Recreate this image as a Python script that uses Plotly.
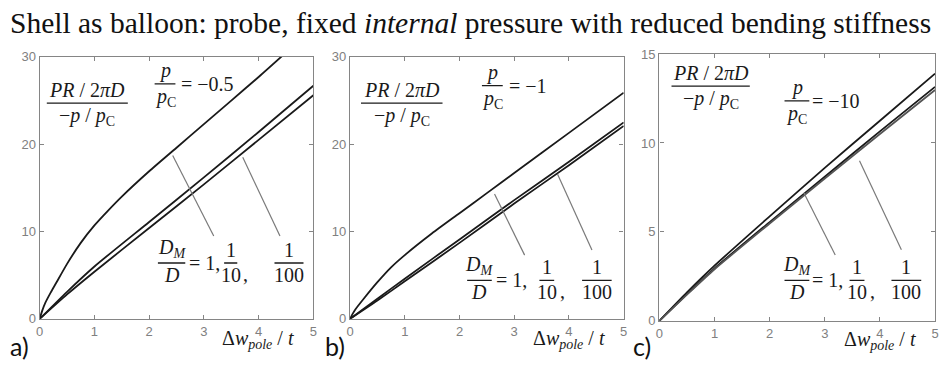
import plotly.graph_objects as go

# ---- curve data: P R/(2 pi D)/(-p/pc) versus pole deflection, for D_M/D = 1, 1/10, 1/100
# panel a) p/pc = -0.5
a_x_stiff = [0, 0.05, 0.1, 0.2, 0.3, 0.5, 0.75, 1, 1.25, 1.5, 2, 2.5, 3, 3.5, 4, 4.5]
a_y_stiff = [0, 1.0, 1.8, 3.0, 4.1, 6.3, 8.7, 10.7, 12.4, 14.0, 16.9, 19.6, 22.3, 25.0, 27.7, 30.5]
a_x = [0, 0.5, 1, 2, 3, 4, 5]
a_y_tenth = [0, 3.1, 6.0, 11.1, 16.2, 21.4, 26.7]
a_y_hundredth = [0, 2.8, 5.4, 10.4, 15.4, 20.5, 25.6]

# panel b) p/pc = -1
b_x_stiff = [0, 0.05, 0.1, 0.25, 0.5, 0.75, 1, 1.5, 2, 2.5, 3, 4, 5]
b_y_stiff = [0, 0.6, 1.1, 2.3, 4.2, 5.9, 7.3, 9.8, 12.1, 14.4, 16.7, 21.3, 25.9]
b_x = [0, 0.5, 1, 2, 3, 4, 5]
b_y_tenth = [0, 2.3, 4.6, 9.1, 13.6, 18.0, 22.5]
b_y_hundredth = [0, 2.1, 4.3, 8.7, 13.2, 17.6, 22.1]

# panel c) p/pc = -10
c_x = [0, 0.5, 1, 2, 3, 4, 5]
c_y_stiff = [0, 1.6, 3.1, 5.87, 8.6, 11.25, 13.9]
c_y_tenth = [0, 1.5, 2.95, 5.55, 8.1, 10.65, 13.15]
c_y_hundredth = [0, 1.47, 2.9, 5.47, 8.0, 10.5, 12.98]

# leader lines from the D_M/D label up to the curves: (x0, y0, x1, y1)
a_leaders = [(2.43, 18.7, 3.18, 9.5), (3.71, 18.5, 4.39, 9.5)]
b_leaders = [(2.64, 14.3, 3.19, 7.3), (3.79, 16.6, 4.42, 7.9)]
c_leaders = [(2.62, 7.2, 3.19, 3.7), (3.63, 9.0, 4.39, 4.0)]

x_ticks = [0, 1, 2, 3, 4, 5]
y_ticks_ab = [0, 10, 20, 30]
y_ticks_c = [0, 5, 10, 15]
pressure_labels = ["\u22120.5", "\u22121", "\u221210"]
panel_tags = ["a)", "b)", "c)"]

W, H = 941, 371
SERIF = "Liberation Serif, Times New Roman, serif"
SANS = "Liberation Sans, Arial, sans-serif"
AXIS_GREY = "#858585"
CURVE = "#1a1a1a"

fig = go.Figure()

panels = [
    dict(ax="", xdom=(36, 312), ydom=(52, 325), yr=30, yt=y_ticks_ab,
         curves=[(a_x_stiff, a_y_stiff), (a_x, a_y_tenth), (a_x, a_y_hundredth)],
         leaders=a_leaders, xlab_px=(218, 347)),
    dict(ax="2", xdom=(349, 625), ydom=(52, 325), yr=30, yt=y_ticks_ab,
         curves=[(b_x_stiff, b_y_stiff), (b_x, b_y_tenth), (b_x, b_y_hundredth)],
         leaders=b_leaders, xlab_px=(532, 347)),
    dict(ax="3", xdom=(661, 939), ydom=(49, 327), yr=15, yt=y_ticks_c,
         curves=[(c_x, c_y_stiff), (c_x, c_y_tenth), (c_x, c_y_hundredth)],
         leaders=c_leaders, xlab_px=(845, 348)),
]

axis_common = dict(showline=True, linecolor=AXIS_GREY, linewidth=1.4, mirror="allticks",
                   ticks="inside", ticklen=4, tickwidth=1, tickcolor=AXIS_GREY,
                   showgrid=False, zeroline=False,
                   tickfont=dict(family=SANS, size=13, color="#808080"))

for i, p in enumerate(panels):
    xa, ya = "x" + p["ax"], "y" + p["ax"]
    x0, x1 = p["xdom"]
    t0, b0 = p["ydom"]
    fig.layout["xaxis" + p["ax"]] = dict(axis_common, domain=[x0 / W, x1 / W], range=[0, 5],
                                         tickvals=x_ticks, anchor=ya, ticklabelstandoff=0)
    fig.layout["yaxis" + p["ax"]] = dict(axis_common, domain=[1 - b0 / H, 1 - t0 / H],
                                         range=[0, p["yr"]], tickvals=p["yt"], anchor=xa)
    for k, (xs, ys) in enumerate(p["curves"]):
        fig.add_trace(go.Scatter(x=xs, y=ys, mode="lines", xaxis=xa, yaxis=ya,
                                 line=dict(color=CURVE if not (i == 2 and k == 2) else "#555555",
                                           width=1.8, shape="spline", smoothing=0.6),
                                 showlegend=False, hoverinfo="skip"))
    for (lx0, ly0, lx1, ly1) in p["leaders"]:
        fig.add_shape(type="line", xref=xa, yref=ya, x0=lx0, y0=ly0, x1=lx1, y1=ly1,
                      line=dict(color="#7a7a7a", width=1.2))


def text(xa, ya, x, y, s, size=20, xanchor="center", yanchor="middle", yshift=0, xshift=0,
         font=SERIF):
    fig.add_annotation(xref=xa, yref=ya, x=x, y=y, text=s, showarrow=False,
                       xanchor=xanchor, yanchor=yanchor, yshift=yshift, xshift=xshift,
                       font=dict(family=font, size=size, color="#1a1a1a"))


def fraction(xa, ya, xl, xr, y, num, den, size=20):
    xc = (xl + xr) / 2
    fig.add_shape(type="line", xref=xa, yref=ya, x0=xl, x1=xr, y0=y, y1=y,
                  line=dict(color="#1a1a1a", width=1.3))
    text(xa, ya, xc, y, num, size, yanchor="bottom", yshift=0)
    text(xa, ya, xc, y, den, size, yanchor="top", yshift=1)


ylab_num = "<i>PR</i> / 2<i>\u03c0D</i>"
ylab_den = "\u2212<i>p</i> / <i>p</i><sub>C</sub>"
p_num = "<i>p</i>"
p_den = "<i>p</i><sub>C</sub>"
dm_num = "<i>D<sub>M</sub></i>"
dm_den = "<i>D</i>"
xlab = "\u0394<i>w</i><sub><i>pole</i></sub> / <i>t</i>"

# per-panel label placement in data units
label_pos = [
    dict(yl=(0.13, 1.61, 24.7), pp=(2.10, 2.48, 26.9, 2.55), dm=(2.16, 2.66, 6.4, 2.70),
         tenth=(3.37, 3.61), hund=(4.29, 4.82)),
    dict(yl=(0.20, 1.69, 24.7), pp=(2.41, 2.79, 26.7, 2.86), dm=(2.14, 2.59, 4.4, 2.63),
         tenth=(3.46, 3.73), hund=(4.24, 4.78)),
    dict(yl=(0.22, 1.64, 13.2), pp=(2.27, 2.72, 12.36, 2.73), dm=(2.27, 2.72, 2.27, 2.73),
         tenth=(3.45, 3.72), hund=(4.21, 4.75)),
]

for i, (p, lp) in enumerate(zip(panels, label_pos)):
    xa, ya = "x" + p["ax"], "y" + p["ax"]
    xl, xr, y = lp["yl"]
    fraction(xa, ya, xl, xr, y, ylab_num, ylab_den)
    xl, xr, y, xe = lp["pp"]
    fraction(xa, ya, xl, xr, y, p_num, p_den)
    text(xa, ya, xe, y, "= " + pressure_labels[i], xanchor="left")
    xl, xr, y, xe = lp["dm"]
    fraction(xa, ya, xl, xr, y, dm_num, dm_den)
    text(xa, ya, xe, y, "= 1,", xanchor="left")
    tl, tr = lp["tenth"]
    fraction(xa, ya, tl, tr, y, "1", "10")
    text(xa, ya, tr, y, ",", xanchor="left", yanchor="top", yshift=2, xshift=4)
    hl, hr = lp["hund"]
    fraction(xa, ya, hl, hr, y, "1", "100")
    # horizontal axis title sits below the frame, between the tick labels
    px, py = p["xlab_px"]
    fig.add_annotation(xref="paper", yref="paper", x=px / W, y=1 - py / H, text=xlab,
                       showarrow=False, xanchor="left", yanchor="middle",
                       font=dict(family=SERIF, size=20, color="#1a1a1a"))

# panel tags
for tag, px in zip(panel_tags, [4, 322, 632]):
    fig.add_annotation(xref="paper", yref="paper", x=px / W, y=1 - 353 / H, text=tag,
                       showarrow=False, xanchor="left", yanchor="middle",
                       font=dict(family="Lato, Open Sans, sans-serif", size=25, color="#111"))

fig.add_annotation(xref="paper", yref="paper", x=0.5, y=1 - 17 / H,
                   text="Shell as balloon: probe, fixed <i>internal</i> pressure with reduced bending stiffness",
                   showarrow=False, xanchor="center", yanchor="middle",
                   font=dict(family=SERIF, size=29.5, color="#111"))

fig.update_layout(width=W, height=H, margin=dict(l=0, r=0, t=0, b=0),
                  paper_bgcolor="white", plot_bgcolor="white", showlegend=False)

fig.write_html("out.html")
